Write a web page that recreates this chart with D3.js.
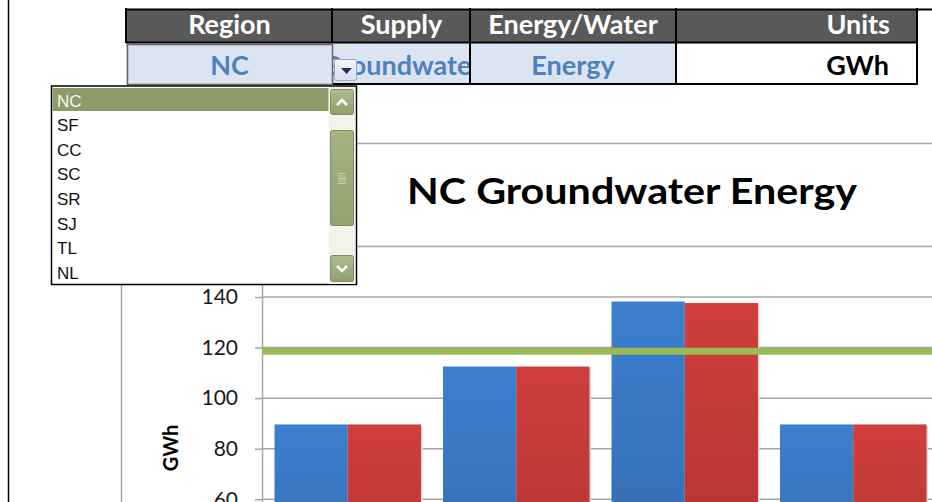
<!DOCTYPE html>
<html>
<head>
<meta charset="utf-8">
<script src="https://cdn.jsdelivr.net/npm/d3@7"></script>
<style>
  body { margin: 0; background: #fff; }
  svg { display: block; }
</style>
</head>
<body>
<div id="chart"></div>
<script>
// data
const headers = ["Region", "Supply", "Energy/Water", "Units"];
const selections = ["NC", "Groundwater", "Energy", "GWh"];
const regions = ["NC", "SF", "CC", "SC", "SR", "SJ", "TL", "NL"];
const categories = ["1", "2", "3", "4"];
const seriesA = [89.6, 112.5, 138.2, 89.6];
const seriesB = [89.6, 112.5, 137.6, 89.6];
const averageLine = 118.5;
const yTicks = [0, 20, 40, 60, 80, 100, 120, 140, 160];

const W = 932, H = 502;
const svg = d3.select("#chart").append("svg")
  .attr("width", W).attr("height", H);

const defs = svg.append("defs");
function vgrad(id, top, bottom) {
  const g = defs.append("linearGradient").attr("id", id)
    .attr("x1", 0).attr("y1", 0).attr("x2", 0).attr("y2", 1);
  g.append("stop").attr("offset", "0%").attr("stop-color", top);
  g.append("stop").attr("offset", "100%").attr("stop-color", bottom);
}
vgrad("gBlue", "#3c80cf", "#3366a6");
vgrad("gRed", "#d03e3b", "#ab322f");
vgrad("gBtn", "#aebd8f", "#8e9f6c");
vgrad("gThumb", "#a4b482", "#92a36f");
vgrad("gDrop", "#f2f5fb", "#d6dfee");

// left frame line
svg.append("line").attr("x1", 8.5).attr("x2", 8.5).attr("y1", 0).attr("y2", H)
  .attr("stroke", "#000").attr("stroke-width", 1.5);

///////////////
// THE CHART //
///////////////

// chart area border
svg.append("path")
  .attr("d", "M121.5," + H + "V143.5H" + W)
  .attr("fill", "none").attr("stroke", "#a6a6a6").attr("stroke-width", 1.5);

const plotLeft = 262;
const x = d3.scaleBand().domain(categories).range([plotLeft + 1.5, plotLeft + 1.5 + 4 * 168.5]);
const y = d3.scaleLinear().domain([0, 160]).range([651, 246.4]);
const barPad = 11, barW = (x.bandwidth() - 2 * barPad) / 2;

// gridlines
svg.append("g").selectAll("line").data(yTicks).enter().append("line")
  .attr("x1", plotLeft).attr("x2", W)
  .attr("y1", d => y(d)).attr("y2", d => y(d))
  .attr("stroke", "#a6a6a6").attr("stroke-width", 1.5);

// y axis
const yAxis = d3.axisLeft(y).tickValues(yTicks).tickSize(7).tickSizeOuter(0).tickPadding(17);
const gy = svg.append("g").attr("transform", "translate(" + plotLeft + ",0)").call(yAxis);
gy.select(".domain").attr("stroke", "#a6a6a6").attr("stroke-width", 1.5);
gy.selectAll(".tick line").attr("stroke", "#a6a6a6").attr("stroke-width", 1.5);
gy.selectAll(".tick text")
  .attr("fill", "#1a1a1a").style("font-family", "Lato, sans-serif").style("font-size", "21px");

svg.append("text")
  .attr("transform", "translate(178,448) rotate(-90)")
  .attr("text-anchor", "middle")
  .style("font-family", "Lato, sans-serif").style("font-weight", "bold").style("font-size", "20px")
  .text("GWh");

// bars, with a faint shadow like the spreadsheet
const bars = [seriesA, seriesB];
const fills = ["url(#gBlue)", "url(#gRed)"];
bars.forEach((s, k) => {
  const g = svg.append("g");
  g.selectAll("rect.shadow").data(s).enter().append("rect")
    .attr("class", "shadow")
    .attr("x", (d, i) => x(categories[i]) + barPad + k * barW + 1.5)
    .attr("y", d => y(d) + 1.5)
    .attr("width", barW)
    .attr("height", d => y(0) - y(d))
    .attr("fill", "#d9d9d9");
  g.selectAll("rect.bar").data(s).enter().append("rect")
    .attr("class", "bar")
    .attr("x", (d, i) => x(categories[i]) + barPad + k * barW)
    .attr("y", d => y(d))
    .attr("width", barW)
    .attr("height", d => y(0) - y(d))
    .attr("fill", fills[k]);
});

// average line
svg.append("line")
  .attr("x1", plotLeft).attr("x2", W)
  .attr("y1", y(averageLine)).attr("y2", y(averageLine))
  .attr("stroke", "#9bbb59").attr("stroke-width", 7);

// title
svg.append("text")
  .attr("x", 407).attr("y", 204)
  .attr("textLength", 450).attr("lengthAdjust", "spacingAndGlyphs")
  .style("font-family", "Lato, sans-serif").style("font-weight", "bold").style("font-size", "37px")
  .text(selections[0] + " " + selections[1] + " " + selections[2]);

//////////////////
// HEADER TABLE //
//////////////////

const colEdges = [126, 333, 470, 676, 917];
const head = svg.append("g");
headers.forEach((h, i) => {
  const x0 = colEdges[i], x1 = colEdges[i + 1];
  head.append("rect").attr("x", x0).attr("y", 9).attr("width", x1 - x0).attr("height", 33)
    .attr("fill", "#595959");
  const right = i === 3;
  head.append("text")
    .attr("x", right ? 890 : (x0 + x1) / 2).attr("y", 34)
    .attr("text-anchor", right ? "end" : "middle")
    .attr("fill", "#fff")
    .style("font-family", "Lato, sans-serif").style("font-weight", "bold").style("font-size", "27px")
    .text(h);

  // value row
  head.append("clipPath").attr("id", "clip" + i)
    .append("rect").attr("x", x0).attr("y", 43).attr("width", x1 - x0).attr("height", 41);
  head.append("rect").attr("x", x0).attr("y", 43).attr("width", x1 - x0).attr("height", 41)
    .attr("fill", right ? "#fff" : "#dbe5f1");
  head.append("text")
    .attr("clip-path", "url(#clip" + i + ")")
    .attr("x", right ? 889 : (x0 + x1) / 2).attr("y", 75)
    .attr("text-anchor", right ? "end" : "middle")
    .attr("fill", right ? "#000" : "#4f81bd")
    .style("font-family", "Lato, sans-serif").style("font-weight", "bold").style("font-size", "27px")
    .text(selections[i]);
});
// table borders
head.append("path")
  .attr("d", "M125,9.5H" + W + "M126,42.5H918M333,84H918" +
    "M126,8V43M332,8V43M470,8V85M676,8V85M917,8V85")
  .attr("fill", "none").attr("stroke", "#000").attr("stroke-width", 2);
// selected cell border
head.append("rect").attr("x", 127.5).attr("y", 44.5).attr("width", 205).attr("height", 40)
  .attr("fill", "none").attr("stroke", "#666").attr("stroke-width", 1.5);

// dropdown button on the cell
const btn = svg.append("g");
btn.append("rect").attr("x", 334.5).attr("y", 59.5).attr("width", 22).attr("height", 21).attr("rx", 2)
  .attr("fill", "url(#gDrop)").attr("stroke", "#9aa9c4");
btn.append("path").attr("d", "M341,68H352L346.5,74Z").attr("fill", "#1f3060");

///////////////////
// DROPDOWN LIST //
///////////////////

const dd = svg.append("g");
dd.append("rect").attr("x", 51.5).attr("y", 86).attr("width", 305).attr("height", 198.5)
  .attr("fill", "#fff").attr("stroke", "#000").attr("stroke-width", 1.5);
dd.append("rect").attr("x", 52.5).attr("y", 88).attr("width", 276).attr("height", 23)
  .attr("fill", "#8c9b68");
const itemStep = 24.6;
dd.selectAll("text.item").data(regions).enter().append("text")
  .attr("class", "item")
  .attr("x", 57).attr("y", (d, i) => 106.5 + i * itemStep)
  .attr("fill", (d, i) => i === 0 ? "#f4f6ee" : "#111")
  .style("font-family", "'Liberation Sans', Arial, sans-serif").style("font-size", "17px")
  .text(d => d);

// scrollbar
dd.append("rect").attr("x", 329).attr("y", 87).attr("width", 26).attr("height", 197)
  .attr("fill", "#f3f3ea");
function scrollBtn(yTop, h) {
  dd.append("rect").attr("x", 330.5).attr("y", yTop).attr("width", 23).attr("height", h).attr("rx", 2)
    .attr("fill", "url(#gBtn)").attr("stroke", "#7f9160");
}
scrollBtn(89.5, 25);
scrollBtn(255.5, 26);
dd.append("rect").attr("x", 330.5).attr("y", 130.5).attr("width", 23).attr("height", 95).attr("rx", 2)
  .attr("fill", "url(#gThumb)").attr("stroke", "#7f9160");
dd.append("path").attr("d", "M337,105L342,100L347,105")
  .attr("fill", "none").attr("stroke", "#fff").attr("stroke-width", 2.5);
dd.append("path").attr("d", "M337,266L342,271L347,266")
  .attr("fill", "none").attr("stroke", "#fff").attr("stroke-width", 2.5);
dd.selectAll("line.grip").data([0, 1, 2, 3, 4]).enter().append("line")
  .attr("class", "grip")
  .attr("x1", 338).attr("x2", 346)
  .attr("y1", d => 173.5 + d * 2.5).attr("y2", d => 173.5 + d * 2.5)
  .attr("stroke", "#c9d3b3").attr("stroke-width", 1);
</script>
</body>
</html>
